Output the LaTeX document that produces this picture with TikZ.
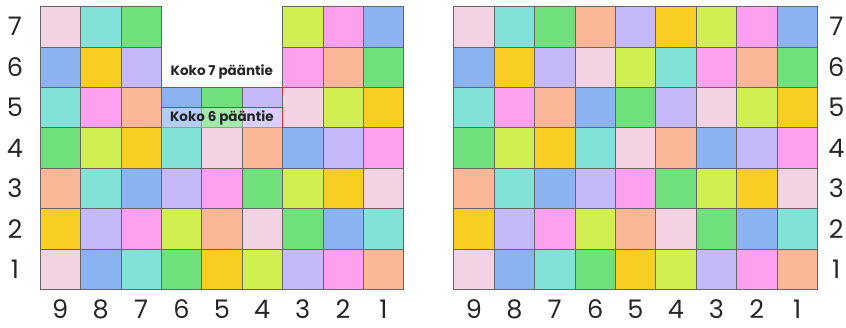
\documentclass[tikz,border=0pt]{standalone}
\usepackage{fontspec}
\setmainfont{Poppins}
\usepackage{tikz}
\usetikzlibrary{positioning}
\definecolor{pk}{HTML}{F3D2E3}
\definecolor{tq}{HTML}{83E2D7}
\definecolor{gn}{HTML}{6FE07B}
\definecolor{sa}{HTML}{FCB698}
\definecolor{lv}{HTML}{C5B9F9}
\definecolor{ye}{HTML}{F8CE22}
\definecolor{li}{HTML}{D1EF50}
\definecolor{mg}{HTML}{FCA0EF}
\definecolor{bu}{HTML}{8BB3F2}
\definecolor{merkki}{HTML}{E8262E}
\tikzset{
  % ruudukko
  ruutu/.style={draw=black!60,line width=0.4pt},
  num/.style={font=\fontsize{18}{20}\selectfont,text=black!85,inner sep=0pt},
  otsake/.style={font=\fontsize{9.5}{11}\selectfont\bfseries,text=black!85,inner sep=1pt},
  raja/.style={draw=merkki,line width=0.8pt},
  haalea/.style={fill=white,opacity=0.35},
}
% rivit ylhäältä alas, sarakkeet 9 ... 1
\newcommand\ruudukko{{pk,tq,gn,sa,lv,ye,li,mg,bu},{bu,ye,lv,pk,li,tq,mg,sa,gn},
  {tq,mg,sa,bu,gn,lv,pk,li,ye},{gn,li,ye,tq,pk,sa,bu,lv,mg},
  {sa,tq,bu,lv,mg,gn,li,ye,pk},{ye,lv,mg,li,sa,pk,gn,bu,tq},
  {pk,bu,tq,gn,ye,li,lv,mg,sa}}

\begin{document}
\begin{tikzpicture}
\useasboundingbox (-0.99,-0.958) rectangle (19.95,7.16);
  % vasen ruudukko, jossa aukko
  \foreach \rivi [count=\j] in \ruudukko {
    \foreach \c [count=\i] in \rivi {
      \pgfmathtruncatemacro\aukko{(\i>3)*(\i<7)*(\j<3)}
      \ifnum\aukko=0
        \filldraw[ruutu,fill=\c] (\i-1,7-\j) rectangle ++(1,1);
      \fi
    }
  }
  \fill[haalea] (3,4) rectangle (6,4.5);
  \draw[raja] (3,4.8) |- (6,5) -- (6,4.8);
  \draw[raja] (3,4) |- (6,4.5) -- (6,4);
  \node[otsake] (koko7) at (4.5,5.39) {Koko 7 pääntie};
  \node[otsake] (koko6) at (4.5,4.24) {Koko 6 pääntie};
  % oikea ruudukko
  \begin{scope}[xshift=10.24cm]
    \foreach \rivi [count=\j] in \ruudukko {
      \foreach \c [count=\i] in \rivi {
        \filldraw[ruutu,fill=\c] (\i-1,7-\j) rectangle ++(1,1);
      }
    }
  \end{scope}
  % numerot
  \foreach \n in {1,...,7} {
    \node[num] (vasen\n) at (-0.62,\n-0.5) {\n};
    \node[num] (oikea\n) at (19.71,\n-0.5) {\n};
  }
  \foreach \k [count=\i] in {9,...,1} {
    \node[num] (alaV\k) at (\i-0.5,-0.5) {\k};
    \node[num] (alaO\k) at (\i+9.74,-0.5) {\k};
  }
\end{tikzpicture}
\end{document}
